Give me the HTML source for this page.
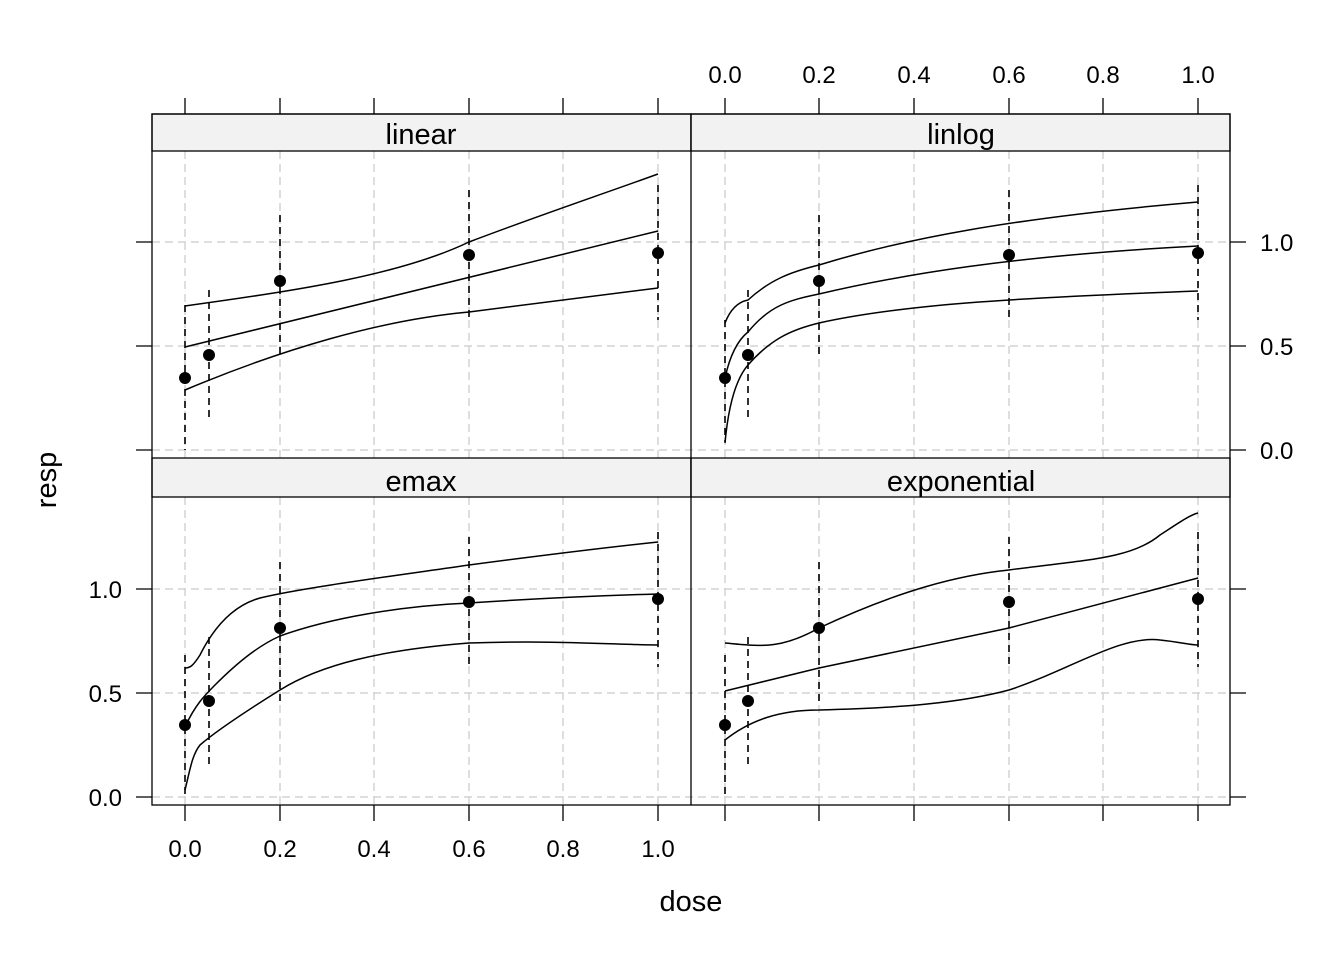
<!DOCTYPE html>
<html><head><meta charset="utf-8"><style>body{margin:0;background:#fff}svg{display:block}text{font-family:"Liberation Sans",Arial,sans-serif;fill:#000}</style></head><body>
<svg width="1344" height="960" viewBox="0 0 1344 960">
<g stroke="#d3d3d3" stroke-width="1.5" stroke-dasharray="8,5" fill="none">
<path d="M185 151V458M280 151V458M374 151V458M469 151V458M563 151V458M658 151V458"/>
<path d="M725 151V458M819 151V458M914 151V458M1009 151V458M1103 151V458M1198 151V458"/>
<path d="M185 497V805M280 497V805M374 497V805M469 497V805M563 497V805M658 497V805"/>
<path d="M725 497V805M819 497V805M914 497V805M1009 497V805M1103 497V805M1198 497V805"/>
<path d="M152 242H1230M152 346H1230M152 450H1230M152 589H1230M152 693H1230M152 797H1230"/>
</g>
<g fill="#f2f2f2" stroke="#000" stroke-width="1.3">
<rect x="152" y="114" width="539" height="37"/><rect x="691" y="114" width="539" height="37"/>
<rect x="152" y="458" width="539" height="39"/><rect x="691" y="458" width="539" height="39"/>
</g>
<g font-size="29" text-anchor="middle">
<text x="421" y="144">linear</text><text x="961" y="144">linlog</text>
<text x="421" y="491">emax</text><text x="961" y="491">exponential</text>
</g>
<g fill="none" stroke="#000" stroke-width="1.3">
<rect x="152" y="114" width="1078" height="691"/>
<path d="M691 114V805"/>
<path d="M185 98V114M280 98V114M374 98V114M469 98V114M563 98V114M658 98V114"/>
<path d="M725 98V114M819 98V114M914 98V114M1009 98V114M1103 98V114M1198 98V114"/>
<path d="M185 805V821M280 805V821M374 805V821M469 805V821M563 805V821M658 805V821"/>
<path d="M725 805V821M819 805V821M914 805V821M1009 805V821M1103 805V821M1198 805V821"/>
<path d="M136 242H152M136 346H152M136 450H152M136 589H152M136 693H152M136 797H152"/>
<path d="M1230 242H1246M1230 346H1246M1230 450H1246M1230 589H1246M1230 693H1246M1230 797H1246"/>
</g>
<g font-size="24" text-anchor="middle">
<text x="725" y="83">0.0</text><text x="819" y="83">0.2</text><text x="914" y="83">0.4</text><text x="1009" y="83">0.6</text><text x="1103" y="83">0.8</text><text x="1198" y="83">1.0</text>
<text x="185" y="857">0.0</text><text x="280" y="857">0.2</text><text x="374" y="857">0.4</text><text x="469" y="857">0.6</text><text x="563" y="857">0.8</text><text x="658" y="857">1.0</text>
</g>
<g font-size="24" text-anchor="end">
<text x="122" y="598">1.0</text><text x="122" y="702">0.5</text><text x="122" y="806">0.0</text>
</g>
<g font-size="24" text-anchor="start">
<text x="1260" y="251">1.0</text><text x="1260" y="355">0.5</text><text x="1260" y="459">0.0</text>
</g>
<text x="691" y="911" font-size="29" text-anchor="middle">dose</text>
<text x="0" y="0" font-size="29" text-anchor="middle" transform="translate(56,480) rotate(-90)">resp</text>

<g stroke="#000" stroke-width="1.6" stroke-dasharray="7,5" fill="none">
<path d="M185 305V450M209 290V420M280 215V355M469 190V320M658 185V320"/>
<path d="M725 320V442M748 290V420M819 215V355M1009 190V320M1198 185V320"/>
<path d="M185 655V797M209 637V767M280 562V702M469 537V667M658 532V667"/>
<path d="M725 655V797M748 637V767M819 562V702M1009 537V667M1198 532V667"/>
</g>
<g fill="none" stroke="#000" stroke-width="1.5">
<path d="M185 347L658 231"/>
<path d="M185 306C300 290 400 275 469 242C540 215 600 195 658 174"/>
<path d="M185 390C280 350 380 320 469 312C560 300 620 293 658 288"/>
<path d="M725 378C730 355 738 340 748 332C770 305 790 300 819 294C900 275 1009 256 1198 246"/>
<path d="M725 323C730 310 738 302 748 300C770 280 790 272 819 265C900 240 1009 218 1198 202"/>
<path d="M725 443C728 410 735 380 748 365C770 340 790 330 819 323C900 305 1009 298 1198 291"/>
<path d="M185 727C195 705 205 695 215 685C240 660 260 645 280 636C330 618 400 606 469 603C560 597 620 595 658 594"/>
<path d="M185 668C190 668 193 666 200 655C215 625 235 605 260 598C300 588 400 575 469 565C560 553 620 546 658 542"/>
<path d="M185 790C190 770 192 755 200 745C215 732 240 715 280 690C320 665 380 650 469 643C560 640 620 645 658 645"/>
<path d="M725 691L819 668L1009 628L1198 578"/>
<path d="M725 643C760 646 780 650 819 628C900 590 960 575 1009 570C1080 560 1130 560 1160 535C1180 522 1190 515 1198 513"/>
<path d="M725 740C750 720 780 710 819 710C900 708 960 703 1009 690C1070 670 1120 635 1160 640C1180 642 1190 645 1198 645"/>
</g>
<g fill="#000">
<circle cx="185" cy="378" r="6"/><circle cx="209" cy="355" r="6"/><circle cx="280" cy="281" r="6"/><circle cx="469" cy="255" r="6"/><circle cx="658" cy="253" r="6"/>
<circle cx="725" cy="378" r="6"/><circle cx="748" cy="355" r="6"/><circle cx="819" cy="281" r="6"/><circle cx="1009" cy="255" r="6"/><circle cx="1198" cy="253" r="6"/>
<circle cx="185" cy="725" r="6"/><circle cx="209" cy="701" r="6"/><circle cx="280" cy="628" r="6"/><circle cx="469" cy="602" r="6"/><circle cx="658" cy="599" r="6"/>
<circle cx="725" cy="725" r="6"/><circle cx="748" cy="701" r="6"/><circle cx="819" cy="628" r="6"/><circle cx="1009" cy="602" r="6"/><circle cx="1198" cy="599" r="6"/>
</g>
</svg>
</body></html>
